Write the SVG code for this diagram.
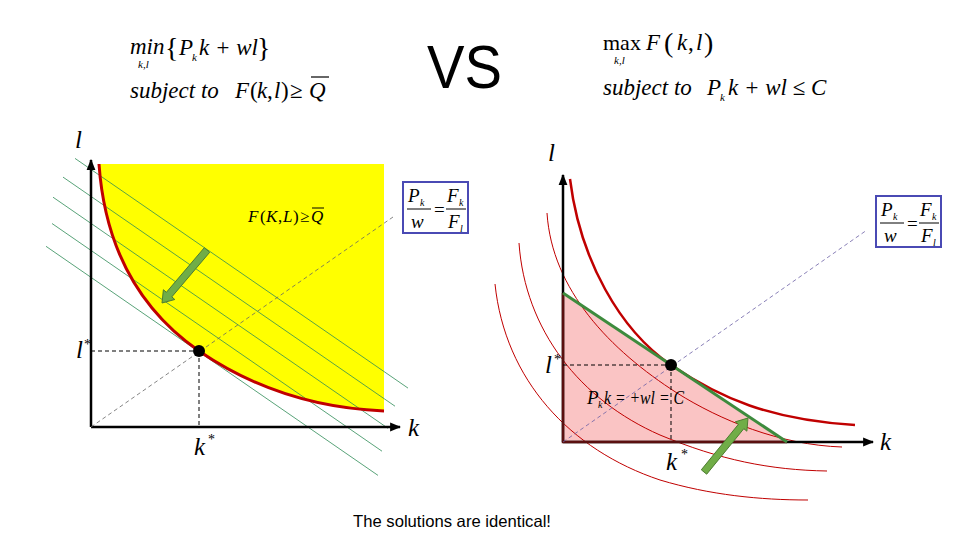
<svg xmlns="http://www.w3.org/2000/svg" width="960" height="540" viewBox="0 0 960 540">
<defs>
<marker id="ah" viewBox="0 0 10 10" refX="9" refY="5" markerWidth="11" markerHeight="11" markerUnits="userSpaceOnUse" orient="auto"><path d="M0,1 L10,5 L0,9 Z" fill="#000"/></marker>
</defs>
<style>
.m{font-family:"Liberation Serif","Times New Roman",serif;font-style:italic;fill:#000}
.u{font-style:normal}
.axis{stroke:#000;stroke-width:2.5;fill:none}
.dash{stroke:#000;stroke-width:1;stroke-dasharray:4,3;fill:none}
.diag{stroke:#666;stroke-width:0.8;stroke-dasharray:4,3;fill:none}
.iso{stroke:#c00000;fill:none}
.budget{stroke:#2e8b57;stroke-width:0.8;fill:none}
.arrow{fill:#70ad47;stroke:#4e7c31;stroke-width:1}
.box{fill:#fff;stroke:#4a4ab4;stroke-width:2}
.sans{font-family:"Liberation Sans",Arial,sans-serif;fill:#000}
</style>
<rect width="960" height="540" fill="#fff"/>

<g id="formula-left">
<text class="m" font-size="23" x="130" y="54">min</text>
<text class="m" font-size="11" x="138" y="68">k,l</text>
<text class="m u" font-size="28" x="165" y="57">{</text>
<text class="m" font-size="23" x="179" y="55">P</text>
<text class="m" font-size="11" x="192" y="61">k</text>
<text class="m" font-size="23" x="199" y="55" xml:space="preserve">k + wl</text>
<text class="m u" font-size="28" x="257" y="57">}</text>
<text class="m" font-size="23" x="130" y="98">subject to</text>
<text class="m" font-size="23" y="98"><tspan x="235">F</tspan><tspan class="u" x="250">(</tspan><tspan x="257">k</tspan><tspan class="u" x="267">,</tspan><tspan x="274">l</tspan><tspan class="u" x="281">)</tspan><tspan class="u" x="290">≥</tspan><tspan x="309">Q</tspan></text>
<line x1="311" y1="77" x2="329" y2="77" stroke="#000" stroke-width="1.2"/>
</g>

<g id="vs"><text class="sans" font-size="62" x="427" y="88" textLength="75" lengthAdjust="spacingAndGlyphs">VS</text></g>

<g id="formula-right">
<text class="m u" font-size="22" x="603" y="50">max</text>
<text class="m" font-size="11" x="614" y="64">k,l</text>
<text class="m" font-size="23" x="646" y="50">F</text>
<text class="m u" font-size="28" x="664" y="52">(</text>
<text class="m" font-size="23" x="677" y="50">k</text>
<text class="m u" font-size="23" x="688" y="50">,</text>
<text class="m" font-size="23" x="696" y="50">l</text>
<text class="m u" font-size="28" x="704" y="52">)</text>
<text class="m" font-size="23" x="603" y="95">subject to</text>
<text class="m" font-size="23" x="707" y="95">P</text>
<text class="m" font-size="11" x="720" y="101">k</text>
<text class="m" font-size="23" x="728" y="95" xml:space="preserve">k + wl <tspan class="u">≤</tspan> C</text>
</g>

<!-- LEFT PANEL -->
<g id="left-region">
<path d="M99,164 L384,164 L384,412 L384,411 C310,408 250,386 199,351 C140,310 105,250 99,164 Z" fill="#ffff00"/>
</g>
<g id="left-connectors">
<line class="budget" x1="75" y1="158.4" x2="408" y2="388.1"/>
<line class="budget" x1="63" y1="177.1" x2="395" y2="406.2"/>
<line class="budget" x1="53" y1="197.2" x2="388" y2="428.3"/>
<line class="budget" x1="52" y1="223.5" x2="382" y2="451.2"/>
<line class="budget" x1="46" y1="246.3" x2="378" y2="475.4"/>
<path class="iso" stroke-width="3" d="M99,164 C105,250 140,310 199,351 C250,386 310,408 384,411"/>
<line class="axis" x1="91" y1="427" x2="91" y2="160" marker-end="url(#ah)"/>
<line class="axis" x1="91" y1="427" x2="400" y2="427" marker-end="url(#ah)"/>
<line class="dash" x1="91" y1="351" x2="199" y2="351"/>
<line class="dash" x1="199" y1="351" x2="199" y2="427"/>
<line class="diag" x1="91" y1="427" x2="393" y2="217"/>
<polygon class="arrow" points="209.7,252.3 171.8,296.9 174.8,299.5 162,303 163.4,289.7 166.4,292.3 204.3,247.7"/>
</g>
<g id="left-point"><circle cx="199" cy="351" r="6" fill="#000"/></g>
<g id="left-labels">
<text class="m" font-size="25" x="75" y="148">l</text>
<text class="m" font-size="25" x="408" y="436">k</text>
<text class="m" font-size="25" x="76" y="358">l</text>
<text class="m u" font-size="14" x="84" y="349">*</text>
<text class="m" font-size="25" x="194" y="455">k</text>
<text class="m u" font-size="14" x="208" y="444">*</text>
<text class="m" font-size="17" y="222"><tspan x="248">F</tspan><tspan class="u" x="260">(</tspan><tspan x="266">K</tspan><tspan class="u" x="278">,</tspan><tspan x="283">L</tspan><tspan class="u" x="293">)</tspan><tspan class="u" x="300">≥</tspan><tspan x="311">Q</tspan></text>
<line x1="312" y1="208" x2="324" y2="208" stroke="#000" stroke-width="1"/>
</g>
<g id="left-ratio" transform="translate(403,182)">
<rect class="box" x="0" y="0" width="65" height="51"/>
<text class="m" font-size="19" x="5" y="20">P</text>
<text class="m" font-size="10" x="17" y="24">k</text>
<line x1="4" y1="27" x2="28" y2="27" stroke="#000" stroke-width="1"/>
<text class="m" font-size="19" x="8" y="46">w</text>
<text class="m u" font-size="19" x="31" y="34">=</text>
<text class="m" font-size="19" x="44" y="20">F</text>
<text class="m" font-size="10" x="56" y="24">k</text>
<line x1="43" y1="27" x2="63" y2="27" stroke="#000" stroke-width="1"/>
<text class="m" font-size="19" x="45" y="46">F</text>
<text class="m" font-size="10" x="57" y="50">l</text>
</g>

<!-- RIGHT PANEL -->
<g id="right-region">
<polygon points="563,293 563,442 787,442" fill="#fac4c4"/>
</g>
<g id="right-connectors">
<path class="iso" stroke-width="1" d="M547,213 C552,290 610,350 677,393 C720,420 780,445 842,447"/>
<path class="iso" stroke-width="1" d="M519,243 C525,330 580,400 660,435 C720,460 770,470 827,471"/>
<path class="iso" stroke-width="1" d="M495,284 C505,380 570,450 660,480 C710,495 760,500 808,500"/>
<path class="iso" stroke-width="2.5" d="M570,179 C580,260 620,330 671,365 C720,398 770,420 855,425"/>
<line class="axis" x1="563" y1="442" x2="563" y2="175" marker-end="url(#ah)"/>
<line class="axis" x1="563" y1="442" x2="873" y2="442" marker-end="url(#ah)"/>
<polyline points="563,293 563,442 787,442" fill="none" stroke="#5a1010" stroke-width="2.5"/>
<line x1="563" y1="293" x2="787" y2="442" stroke="#3d8b3d" stroke-width="3"/>
<line class="dash" x1="563" y1="365" x2="671" y2="365"/>
<line class="dash" x1="671" y1="365" x2="671" y2="442"/>
<line x1="563" y1="442" x2="867" y2="230" stroke="#6b5fa5" stroke-width="0.8" stroke-dasharray="4,3"/>
<polygon class="arrow" points="706.7,474.2 743.8,428.7 746.9,431.2 748,418 735.3,421.8 738.4,424.3 701.3,469.8"/>
</g>
<g id="right-point"><circle cx="671" cy="365" r="6" fill="#000"/></g>
<g id="right-labels">
<text class="m" font-size="25" x="548" y="161">l</text>
<text class="m" font-size="25" x="880" y="450">k</text>
<text class="m" font-size="25" x="545" y="373">l</text>
<text class="m u" font-size="14" x="554" y="364">*</text>
<text class="m" font-size="25" x="666" y="470">k</text>
<text class="m u" font-size="14" x="681" y="459">*</text>
<text class="m" font-size="19" x="587" y="404" fill="#222">P</text>
<text class="m" font-size="10" x="598" y="408" fill="#222">k</text>
<text class="m" font-size="19" x="604" y="404" fill="#222" textLength="80" lengthAdjust="spacingAndGlyphs">k = +wl = C</text>
</g>
<g id="right-ratio" transform="translate(876,196)">
<rect class="box" x="0" y="0" width="65" height="51"/>
<text class="m" font-size="19" x="5" y="20">P</text>
<text class="m" font-size="10" x="17" y="24">k</text>
<line x1="4" y1="27" x2="28" y2="27" stroke="#000" stroke-width="1"/>
<text class="m" font-size="19" x="8" y="46">w</text>
<text class="m u" font-size="19" x="31" y="34">=</text>
<text class="m" font-size="19" x="44" y="20">F</text>
<text class="m" font-size="10" x="56" y="24">k</text>
<line x1="43" y1="27" x2="63" y2="27" stroke="#000" stroke-width="1"/>
<text class="m" font-size="19" x="45" y="46">F</text>
<text class="m" font-size="10" x="57" y="50">l</text>
</g>

<g id="caption"><text class="sans" font-size="16.5" x="353" y="527" textLength="198" lengthAdjust="spacingAndGlyphs">The solutions are identical!</text></g>
</svg>
